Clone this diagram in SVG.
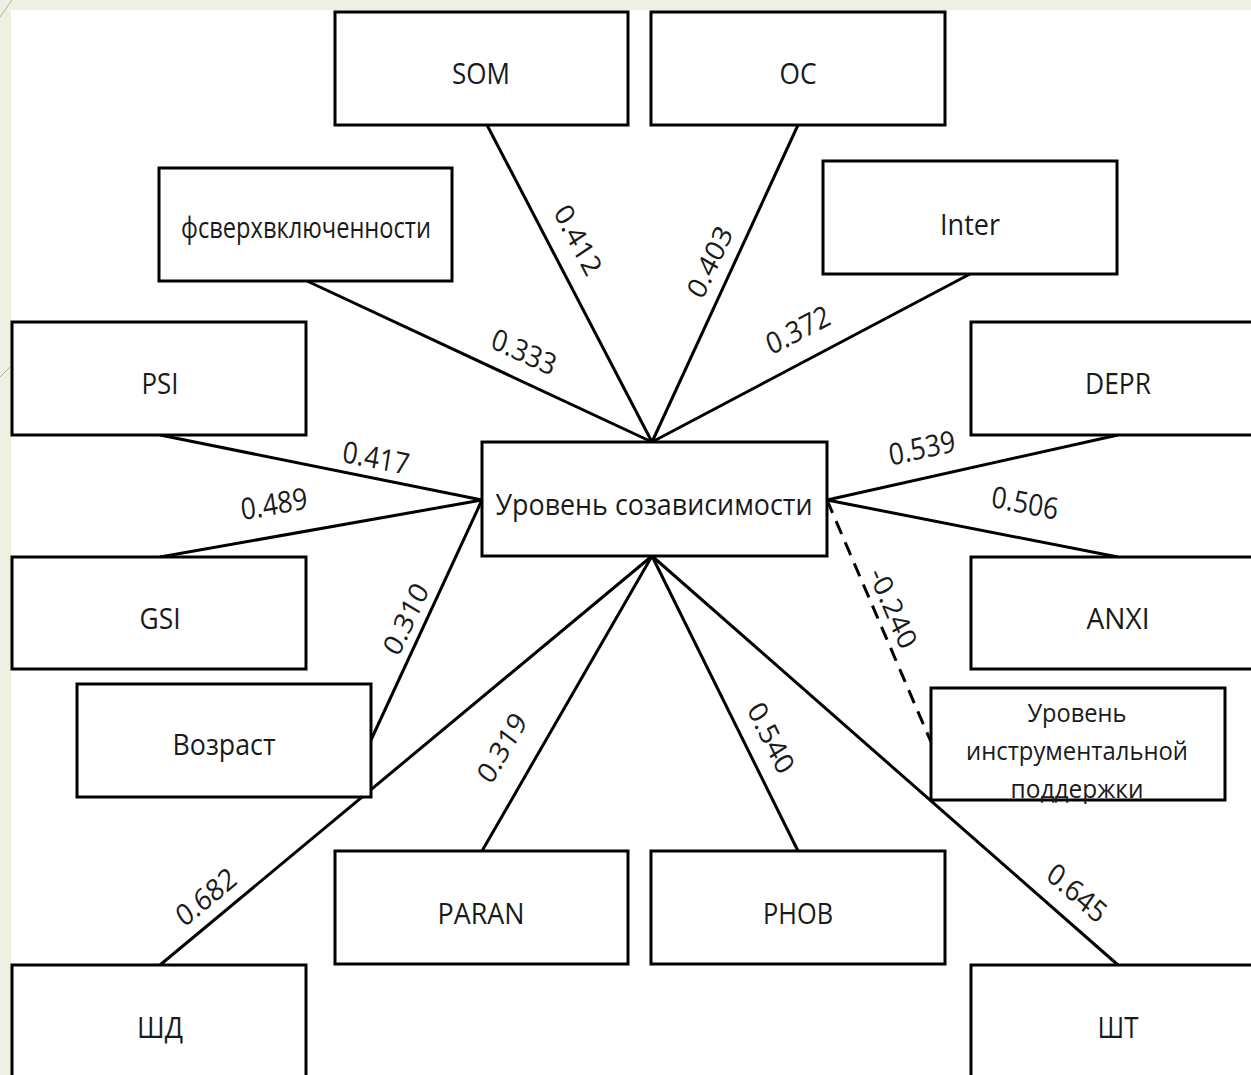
<svg xmlns="http://www.w3.org/2000/svg" width="1251" height="1075" viewBox="0 0 1251 1075">
<style>
.box{fill:#fff;stroke:#000;stroke-width:3}
.t{font-family:"Open Sans","Liberation Sans",sans-serif;font-size:30px;fill:#1a1a1a;text-anchor:middle}
.t2{font-family:"Open Sans","Liberation Sans",sans-serif;font-size:26px;fill:#1a1a1a;text-anchor:middle}
.lbl{font-family:"Open Sans","Liberation Sans",sans-serif;font-size:30px;fill:#1a1a1a;text-anchor:middle}
.e{stroke:#000;stroke-width:3;fill:none}
.dash{stroke-dasharray:14 9}
</style>
<rect x="0" y="0" width="1251" height="1075" fill="#edf1e1"/>
<rect x="11" y="10" width="1240" height="1065" fill="#fff"/>
<line x1="0" y1="17" x2="12" y2="0" stroke="#b5b29a" stroke-width="1"/>
<line x1="0" y1="377" x2="10" y2="367" stroke="#b5b29a" stroke-width="1"/>

<g id="connectors">
<path class="e" d="M487,125 L652,442"/>
<path class="e" d="M798,125 L652,442"/>
<path class="e" d="M307,281 L652,442"/>
<path class="e" d="M970,274 L652,442"/>
<path class="e" d="M160,435 L482,500"/>
<path class="e" d="M160,557 L482,500"/>
<path class="e" d="M371,740 L482,500"/>
<path class="e" d="M1118,435 L827,500"/>
<path class="e" d="M1118,557 L827,500"/>
<path class="e dash" d="M827,500 L931,742"/>
<path class="e" d="M160,965 L652,556"/>
<path class="e" d="M482,851 L652,556"/>
<path class="e" d="M798,851 L652,556"/>
<path class="e" d="M1118,965 L652,556"/>
<g id="labels">
<text class="lbl" transform="translate(578,240) scale(0.88,1) rotate(59.4)" dy="0.35em">0.412</text>
<text class="lbl" transform="translate(710,262) scale(0.88,1) rotate(-62.4)" dy="0.35em">0.403</text>
<text class="lbl" transform="translate(524,352) scale(0.88,1) rotate(22.3)" dy="0.35em">0.333</text>
<text class="lbl" transform="translate(798,330) scale(0.88,1) rotate(-24.9)" dy="0.35em">0.372</text>
<text class="lbl" transform="translate(376,458) scale(0.88,1) rotate(10.1)" dy="0.35em">0.417</text>
<text class="lbl" transform="translate(274,504) scale(0.88,1) rotate(-8.9)" dy="0.35em">0.489</text>
<text class="lbl" transform="translate(406,619) scale(0.88,1) rotate(-62.3)" dy="0.35em">0.310</text>
<text class="lbl" transform="translate(502,748) scale(0.88,1) rotate(-56.8)" dy="0.35em">0.319</text>
<text class="lbl" transform="translate(771,738) scale(0.88,1) rotate(60.6)" dy="0.35em">0.540</text>
<text class="lbl" transform="translate(206,897) scale(0.88,1) rotate(-36.2)" dy="0.35em">0.682</text>
<text class="lbl" transform="translate(1077,893) scale(0.88,1) rotate(37.7)" dy="0.35em">0.645</text>
<text class="lbl" transform="translate(922,448) scale(0.88,1) rotate(-11.1)" dy="0.35em">0.539</text>
<text class="lbl" transform="translate(1025,503) scale(0.88,1) rotate(9.8)" dy="0.35em">0.506</text>
<text class="lbl" transform="translate(893,608) scale(0.88,1) rotate(64)" dy="0.35em">-0.240</text>
</g>
</g>

<g id="n-som"><rect class="box" x="335" y="12" width="293" height="113"/><text class="t" x="481" y="84" textLength="58" lengthAdjust="spacingAndGlyphs">SOM</text></g>
<g id="n-oc"><rect class="box" x="651" y="12" width="294" height="113"/><text class="t" x="798" y="84" textLength="37" lengthAdjust="spacingAndGlyphs">OC</text></g>
<g id="n-fs"><rect class="box" x="159" y="168" width="293" height="113"/><text class="t" x="306" y="238" textLength="250" lengthAdjust="spacingAndGlyphs">фсверхвключенности</text></g>
<g id="n-inter"><rect class="box" x="823" y="161" width="294" height="113"/><text class="t" x="970" y="235" textLength="60" lengthAdjust="spacingAndGlyphs">Inter</text></g>
<g id="n-psi"><rect class="box" x="12" y="322" width="294" height="113"/><text class="t" x="160" y="394" textLength="37" lengthAdjust="spacingAndGlyphs">PSI</text></g>
<g id="n-depr"><rect class="box" x="971" y="322" width="282" height="113"/><text class="t" x="1118" y="394" textLength="66" lengthAdjust="spacingAndGlyphs">DEPR</text></g>
<g id="n-center"><rect class="box" x="482" y="442" width="345" height="114"/><text class="t" x="654" y="515" textLength="317" lengthAdjust="spacingAndGlyphs">Уровень созависимости</text></g>
<g id="n-gsi"><rect class="box" x="12" y="557" width="294" height="112"/><text class="t" x="160" y="629" textLength="41" lengthAdjust="spacingAndGlyphs">GSI</text></g>
<g id="n-anxi"><rect class="box" x="971" y="557" width="282" height="112"/><text class="t" x="1118" y="629" textLength="63" lengthAdjust="spacingAndGlyphs">ANXI</text></g>
<g id="n-age"><rect class="box" x="77" y="684" width="294" height="113"/><text class="t" x="224" y="755" textLength="103" lengthAdjust="spacingAndGlyphs">Возраст</text></g>
<g id="n-support"><rect class="box" x="931" y="688" width="294" height="112"/><text class="t2" x="1077" y="722" textLength="99" lengthAdjust="spacingAndGlyphs">Уровень</text><text class="t2" x="1077" y="760" textLength="222" lengthAdjust="spacingAndGlyphs">инструментальной</text><text class="t2" x="1077" y="798" textLength="133" lengthAdjust="spacingAndGlyphs">поддержки</text></g>
<g id="n-paran"><rect class="box" x="335" y="851" width="293" height="113"/><text class="t" x="481" y="924" textLength="87" lengthAdjust="spacingAndGlyphs">PARAN</text></g>
<g id="n-phob"><rect class="box" x="651" y="851" width="294" height="113"/><text class="t" x="798" y="924" textLength="70" lengthAdjust="spacingAndGlyphs">PHOB</text></g>
<g id="n-shd"><rect class="box" x="12" y="965" width="294" height="120"/><text class="t" x="160" y="1038" textLength="46" lengthAdjust="spacingAndGlyphs">ШД</text></g>
<g id="n-sht"><rect class="box" x="971" y="965" width="282" height="120"/><text class="t" x="1118" y="1038" textLength="41" lengthAdjust="spacingAndGlyphs">ШТ</text></g>
</svg>
